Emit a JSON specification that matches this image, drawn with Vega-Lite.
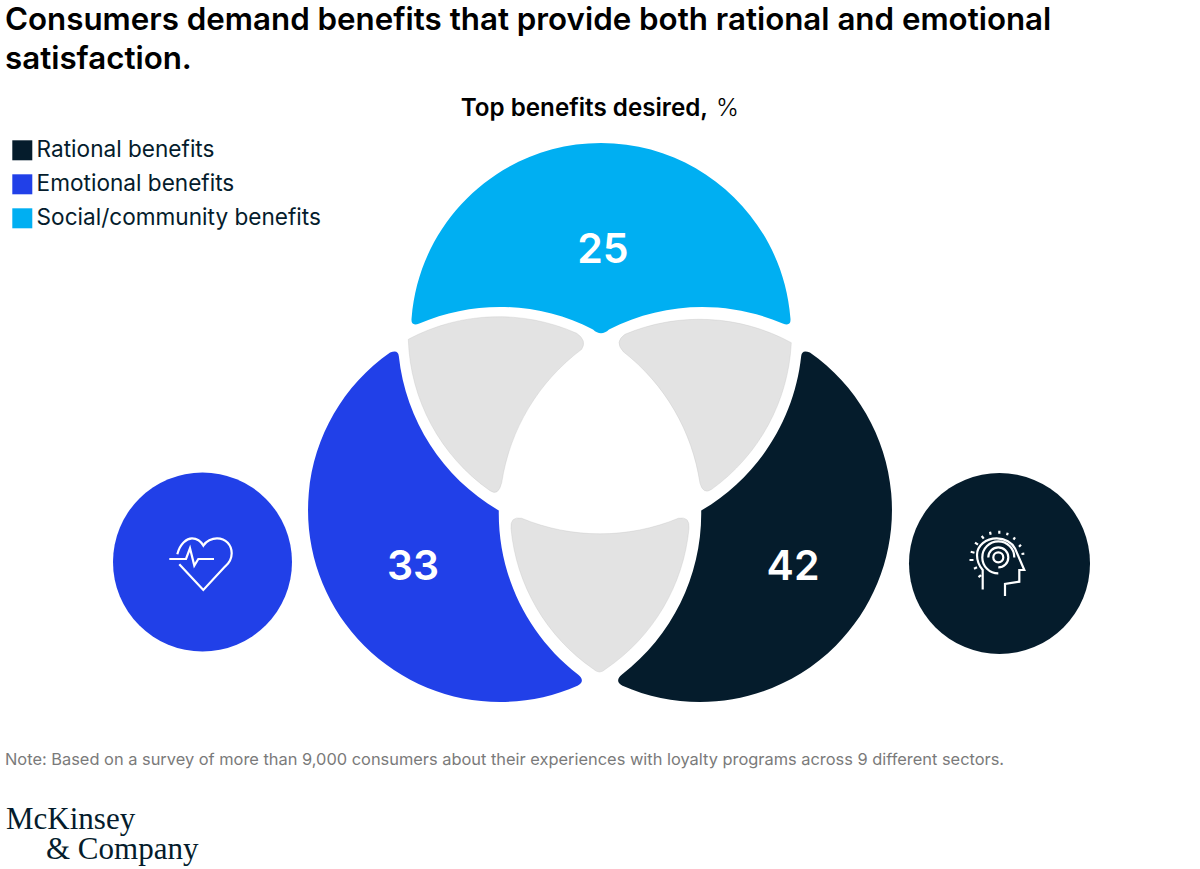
{
"$schema":"https://vega.github.io/schema/vega-lite/v6.json",
"width":1200,"height":869,"padding":0,
"autosize":{"type":"fit","contains":"padding"},
"background":"white",
"config":{"view":{"stroke":null}},
"encoding":{
 "x":{"field":"x","type":"quantitative","axis":null,"scale":{"domain":[0,1200],"nice":false,"zero":false}},
 "y":{"field":"y","type":"quantitative","axis":null,"scale":{"domain":[869,0],"nice":false,"zero":false}}
},
"layer":[
{"data":{"values":[
 {"segment":"Social","benefit":"Social/community benefits","x":601,"y":333},
 {"segment":"Emotional","benefit":"Emotional benefits","x":500,"y":510},
 {"segment":"Rational","benefit":"Rational benefits","x":700,"y":510},
 {"segment":"Social+Emotional","benefit":"Overlap","x":500,"y":400},
 {"segment":"Social+Rational","benefit":"Overlap","x":700,"y":400},
 {"segment":"Emotional+Rational","benefit":"Overlap","x":600,"y":600}
]},
"mark":{"type":"point","filled":true,"size":4,"opacity":1,"strokeWidth":0.4},
"encoding":{
 "color":{"field":"benefit","type":"nominal","scale":{"domain":["Rational benefits","Emotional benefits","Social/community benefits","Overlap"],"range":["#051C2C","#2140E8","#00AFF2","#E3E3E3"]},
  "legend":{"values":["Rational benefits","Emotional benefits","Social/community benefits"],"title":null,"orient":"none","legendX":11,"legendY":139,"symbolType":"square","symbolSize":400,"symbolStrokeWidth":0,"labelFont":"Inter","labelFontSize":22.6,"labelColor":"#051C2C","labelOffset":3,"rowPadding":11,"labelLimit":400}},
 "stroke":{"field":"benefit","type":"nominal","legend":null,"scale":{"domain":["Rational benefits","Emotional benefits","Social/community benefits","Overlap"],"range":["transparent","transparent","transparent","#C8C8C8"]}},
 "shape":{"field":"segment","type":"nominal","legend":null,"scale":{"domain":["Social","Emotional","Rational","Social+Emotional","Social+Rational","Emotional+Rational"],"range":[
  "M-189.4 -15 A190 190 0 0 1 0 -190 A190 190 0 0 1 189.4 -15 Q190.5 -6 181.7 -9.5 A204 204 0 0 0 8 -3.5 Q0 4 -8 -3.5 A204 204 0 0 0 -181.7 -9.5 Q-190.5 -6 -189.4 -15 Z",
  "M-109.9 -157.4 A192 192 0 0 0 -135.76 135.76 A192 192 0 0 0 77.5 175.7 Q86 171 78 164.5 A203 203 0 0 1 -1.2 0.5 A204 204 0 0 1 -101.2 -154 Q-102 -161 -109.9 -157.4 Z",
  "M109.9 -157.4 A192 192 0 0 1 135.76 135.76 A192 192 0 0 1 -77.5 175.7 Q-86 171 -78 164.5 A203 203 0 0 0 1.2 0.5 A204 204 0 0 0 101.2 -154 Q102 -161 109.9 -157.4 Z",
  "M-91.7 -60.7 A192 192 0 0 1 76.7 -66.7 Q87.3 -59.3 81.7 -50.7 A205 205 0 0 0 1.7 82.7 Q-1.7 96.7 -10 90.7 A192 192 0 0 1 -91.7 -60.7 Z",
  "M91.3 -57.3 A192 192 0 0 0 -75 -65.7 Q-86 -58.3 -76.7 -48.3 A205 205 0 0 1 0 83.3 Q3.3 95 11.7 89.3 A192 192 0 0 0 91.3 -57.3 Z",
  "M-78.3 -81.7 A205 205 0 0 0 78.3 -81.7 Q90 -84 89 -71.7 A192 192 0 0 1 5.7 69 Q-0.5 75 -6.7 69 A192 192 0 0 1 -89 -71.7 Q-90 -84 -78.3 -81.7 Z"
 ]}}
}},
{"data":{"values":[{"x":202.5,"y":562,"benefit":"Emotional benefits"}]},
 "mark":{"type":"point","shape":"circle","filled":true,"size":32041,"opacity":1,"strokeWidth":0},
 "encoding":{"color":{"field":"benefit","type":"nominal","legend":null}}},
{"data":{"values":[{"x":999.5,"y":563.5,"benefit":"Rational benefits"}]},
 "mark":{"type":"point","shape":"circle","filled":true,"size":32761,"opacity":1,"strokeWidth":0},
 "encoding":{"color":{"field":"benefit","type":"nominal","legend":null}}},
{"data":{"values":[{"x":200,"y":563.3,"icon":"heart"}]},
 "mark":{"type":"point","filled":false,"opacity":1,"size":4,"stroke":"white","strokeWidth":2.2,
  "shape":"M-22.7 -9 C-20 -20 -13 -25 -8 -25 C-3 -25 1 -22 3.3 -17.7 C6 -22 12 -25 17 -25 C26 -25 31.7 -18 31.7 -10 C31.7 -4 29 0 25 3.3 L3.3 26.7 L-20.7 1 M-30.7 -4.3 L-14 -4.3 L-10 -15 L-5.7 2.3 L-1.7 -4.3 L14 -4.3"}},
{"data":{"values":[{"x":1000,"y":562.7,"icon":"head"}]},
 "mark":{"type":"point","filled":false,"opacity":1,"size":4,"stroke":"white","strokeWidth":2.2,
  "shape":"M-17.3 26.7 L-17.3 7.3 C-21 3 -23 -2 -23 -7.7 C-23 -17 -14 -24.3 -3.3 -24.3 C5 -24.3 12 -20 15 -14.3 L24.3 7.3 L19.3 7.3 L19.3 19 L5 21.3 L5 33.3 M-6.7 -5.3 A5 5 0 1 1 3.3 -5.3 A5 5 0 1 1 -6.7 -5.3 M-11.7 -5.3 A10 10 0 1 1 8.3 -5.3 A10 10 0 0 1 -1.7 4.7 M-1.7 10.7 A16 16 0 1 1 14.3 -5.3 M-30.5 -2.7 L-26.5 -2.7 M-29.3 -11 L-25.5 -10 M-25 -20 L-22 -18 M-18.3 -26.7 L-16.3 -24 M-10 -31 L-9.3 -28 M-0.7 -32 L-0.7 -29 M7.7 -30 L7 -27.5 M15 -25.3 L13.5 -23 M21 -18 L19 -16 M24.3 -9 L21.5 -8.7 M-26 6 L-23 4.5 M-21.5 14.5 L-19 12.5"}},
{"data":{"values":[{"x":603,"y":251,"value":25},{"x":413,"y":568,"value":33},{"x":793,"y":568,"value":42}]},
 "mark":{"type":"text","font":"Inter","fontWeight":600,"fontSize":41,"color":"white","align":"center","baseline":"middle"},
 "encoding":{"text":{"field":"value","type":"quantitative"}}},
{"data":{"values":[{"x":5,"y":30,"t":"Consumers demand benefits that provide both rational and emotional"},{"x":5,"y":69,"t":"satisfaction."}]},
 "mark":{"type":"text","font":"Inter","fontWeight":600,"fontSize":31.3,"color":"#000000","align":"left","baseline":"alphabetic"},
 "encoding":{"text":{"field":"t","type":"nominal"}}},
{"data":{"values":[{"x":708,"y":116,"t":"Top benefits desired,"}]},
 "mark":{"type":"text","font":"Inter","fontWeight":600,"fontSize":24.2,"color":"#000000","align":"right","baseline":"alphabetic"},
 "encoding":{"text":{"field":"t","type":"nominal"}}},
{"data":{"values":[{"x":716,"y":116,"t":"%"}]},
 "mark":{"type":"text","font":"Inter","fontWeight":300,"fontSize":24.5,"color":"#000000","align":"left","baseline":"alphabetic"},
 "encoding":{"text":{"field":"t","type":"nominal"}}},
{"data":{"values":[{"x":5,"y":765,"t":"Note: Based on a survey of more than 9,000 consumers about their experiences with loyalty programs across 9 different sectors."}]},
 "mark":{"type":"text","font":"Inter","fontSize":16.4,"color":"#7A7A7A","align":"left","baseline":"alphabetic"},
 "encoding":{"text":{"field":"t","type":"nominal"}}},
{"data":{"values":[{"x":6,"y":829,"t":"McKinsey"},{"x":46,"y":859,"t":"& Company"}]},
 "mark":{"type":"text","font":"Liberation Serif","fontSize":31,"color":"#051C2C","align":"left","baseline":"alphabetic"},
 "encoding":{"text":{"field":"t","type":"nominal"}}}
]
}
